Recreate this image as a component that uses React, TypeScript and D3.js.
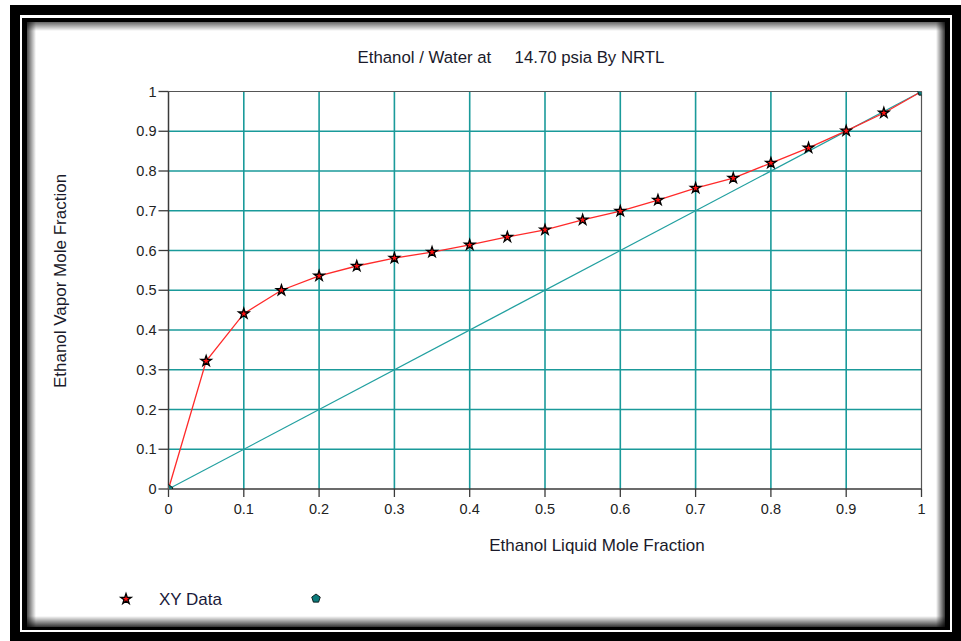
import React from "react";
import * as d3 from "d3";

const xLiquid = [0, 0.05, 0.1, 0.15, 0.2, 0.25, 0.3, 0.35, 0.4, 0.45, 0.5, 0.55, 0.6, 0.65, 0.7, 0.75, 0.8, 0.85, 0.9, 0.95, 1.0];
const yVapor = [0, 0.322, 0.441, 0.5, 0.536, 0.561, 0.581, 0.596, 0.614, 0.634, 0.652, 0.677, 0.699, 0.727, 0.757, 0.782, 0.82, 0.858, 0.901, 0.946, 1.0];
const diagX = [0, 1];
const diagY = [0, 1];
const tickValues = [0, 0.1, 0.2, 0.3, 0.4, 0.5, 0.6, 0.7, 0.8, 0.9, 1];
const tickLabels = ["0", "0.1", "0.2", "0.3", "0.4", "0.5", "0.6", "0.7", "0.8", "0.9", "1"];
const titleText = "Ethanol / Water at     14.70 psia By NRTL";
const xLabel = "Ethanol Liquid Mole Fraction";
const yLabel = "Ethanol Vapor Mole Fraction";
const legendLabel = "XY Data";

const W = 961;
const H = 641;
const L = 168.5, R = 921.5, T = 91.5, B = 489;
const FONT = "'Liberation Sans', Arial, sans-serif";
const GRID = "#1a9a9a";
const AXIS = "#3a3a3a";

function pentagon(r: number) {
  const pts: [number, number][] = [];
  for (let i = 0; i < 5; i++) {
    const a = -Math.PI / 2 + (i * 2 * Math.PI) / 5;
    pts.push([r * Math.cos(a), r * Math.sin(a)]);
  }
  return "M" + pts.map((p) => p.join(",")).join("L") + "Z";
}

export default function App() {
  const x = d3.scaleLinear().domain([0, 1]).range([L, R]);
  const y = d3.scaleLinear().domain([0, 1]).range([B, T]);
  const star = d3.symbol(d3.symbolStar, 34)() as string;
  const line = d3
    .line<number>()
    .x((_, i) => x(xLiquid[i]))
    .y((d) => y(d));
  const diag = d3
    .line<number>()
    .x((_, i) => x(diagX[i]))
    .y((d) => y(d));

  const shadow = 9;
  const cx0 = 27, cy0 = 22, cx1 = 945, cy1 = 627;

  return (
    <div style={{ position: "fixed", left: 0, top: 0, width: W, height: H }}>
      <svg width={W} height={H} style={{ display: "block" }}>
        <defs>
          <linearGradient id="gL" x1="0" x2="1" y1="0" y2="0">
            <stop offset="0" stopColor="#000" stopOpacity="0.7" />
            <stop offset="1" stopColor="#000" stopOpacity="0" />
          </linearGradient>
          <linearGradient id="gR" x1="1" x2="0" y1="0" y2="0">
            <stop offset="0" stopColor="#000" stopOpacity="0.8" />
            <stop offset="1" stopColor="#000" stopOpacity="0" />
          </linearGradient>
          <linearGradient id="gT" x1="0" x2="0" y1="0" y2="1">
            <stop offset="0" stopColor="#000" stopOpacity="0.6" />
            <stop offset="1" stopColor="#000" stopOpacity="0" />
          </linearGradient>
          <linearGradient id="gB" x1="0" x2="0" y1="1" y2="0">
            <stop offset="0" stopColor="#000" stopOpacity="0.8" />
            <stop offset="1" stopColor="#000" stopOpacity="0" />
          </linearGradient>
          <clipPath id="plotClip">
            <rect x={L} y={T} width={R - L} height={B - T} />
          </clipPath>
        </defs>
        <rect x={0} y={0} width={W} height={H} fill="#fff" />
        {/* frame */}
        <rect x={10} y={5} width={W - 10} height={H - 5} fill="#000" />
        <rect x={20} y={15} width={932} height={617} fill="#fff" />
        <rect x={22} y={18} width={928} height={612} fill="#000" />
        <rect x={cx0} y={cy0} width={cx1 - cx0} height={cy1 - cy0} fill="#fff" />
        <rect x={cx0} y={cy0} width={shadow} height={cy1 - cy0} fill="url(#gL)" />
        <rect x={cx0} y={cy0} width={cx1 - cx0} height={shadow} fill="url(#gT)" />
        <rect x={cx1 - shadow} y={cy0} width={shadow} height={cy1 - cy0} fill="url(#gR)" />
        <rect x={cx0} y={cy1 - 11} width={cx1 - cx0} height={11} fill="url(#gB)" />

        {/* title */}
        <text x={511} y={63} textAnchor="middle" fontFamily={FONT} fontSize={16.8} fill="#1a1a2a" style={{ whiteSpace: "pre" }}>
          {titleText}
        </text>

        {/* grid */}
        {tickValues.slice(1, -1).map((t) => (
          <line key={"gx" + t} x1={x(t)} x2={x(t)} y1={T} y2={B} stroke={GRID} strokeWidth={1.6} />
        ))}
        {tickValues.slice(1, -1).map((t) => (
          <line key={"gy" + t} x1={L} x2={R} y1={y(t)} y2={y(t)} stroke={GRID} strokeWidth={1.6} />
        ))}

        {/* plot border */}
        <line x1={L} x2={R} y1={T} y2={T} stroke="#555" strokeWidth={1.2} />
        <line x1={R} x2={R} y1={T} y2={B} stroke="#555" strokeWidth={1.2} />
        <line x1={L} x2={L} y1={T} y2={B} stroke={AXIS} strokeWidth={1.5} />
        <line x1={L} x2={R} y1={B} y2={B} stroke={AXIS} strokeWidth={1.5} />

        {/* ticks */}
        {tickValues.map((t, i) => (
          <g key={"ty" + t}>
            <line x1={L - 10} x2={L} y1={y(t)} y2={y(t)} stroke={AXIS} strokeWidth={1.3} />
            <text x={L - 12} y={y(t) + 5} textAnchor="end" fontFamily={FONT} fontSize={14.5} fill="#222">
              {tickLabels[i]}
            </text>
          </g>
        ))}
        {tickValues.map((t, i) => (
          <g key={"tx" + t}>
            <line x1={x(t)} x2={x(t)} y1={B} y2={B + 8} stroke={AXIS} strokeWidth={1.3} />
            <text x={x(t)} y={B + 25} textAnchor="middle" fontFamily={FONT} fontSize={14.5} fill="#222">
              {tickLabels[i]}
            </text>
          </g>
        ))}

        {/* axis labels */}
        <text x={597} y={551} textAnchor="middle" fontFamily={FONT} fontSize={17} fill="#1a1a2a">
          {xLabel}
        </text>
        <text
          transform={`translate(66,${281}) rotate(-90)`}
          textAnchor="middle"
          fontFamily={FONT}
          fontSize={17}
          fill="#1a1a2a"
        >
          {yLabel}
        </text>

        {/* series */}
        <path d={diag(diagY) as string} fill="none" stroke="#22a0a0" strokeWidth={1.2} />
        <path d={line(yVapor) as string} fill="none" stroke="#ff2a2a" strokeWidth={1.3} />
        {xLiquid.map((xv, i) =>
          i === 0 || i === xLiquid.length - 1 ? null : (
            <path
              key={"s" + i}
              d={star}
              transform={`translate(${x(xv)},${y(yVapor[i])})`}
              fill="#ff1010"
              stroke="#000"
              strokeWidth={1.3}
            />
          )
        )}
        <g clipPath="url(#plotClip)">
          {diagX.map((xv, i) => (
            <path
              key={"p" + i}
              d={pentagon(4.5)}
              transform={`translate(${x(xv)},${y(diagY[i])})`}
              fill="#0d7b7b"
              stroke="#000"
              strokeWidth={0.8}
            />
          ))}
        </g>

        {/* legend */}
        <path d={star} transform="translate(126,599)" fill="#ff1010" stroke="#000" strokeWidth={1.3} />
        <text x={159} y={605} fontFamily={FONT} fontSize={17} fill="#1a1a3a">
          {legendLabel}
        </text>
        <path d={pentagon(4.5)} transform="translate(316,598.5)" fill="#0d7b7b" stroke="#000" strokeWidth={0.8} />
      </svg>
    </div>
  );
}
